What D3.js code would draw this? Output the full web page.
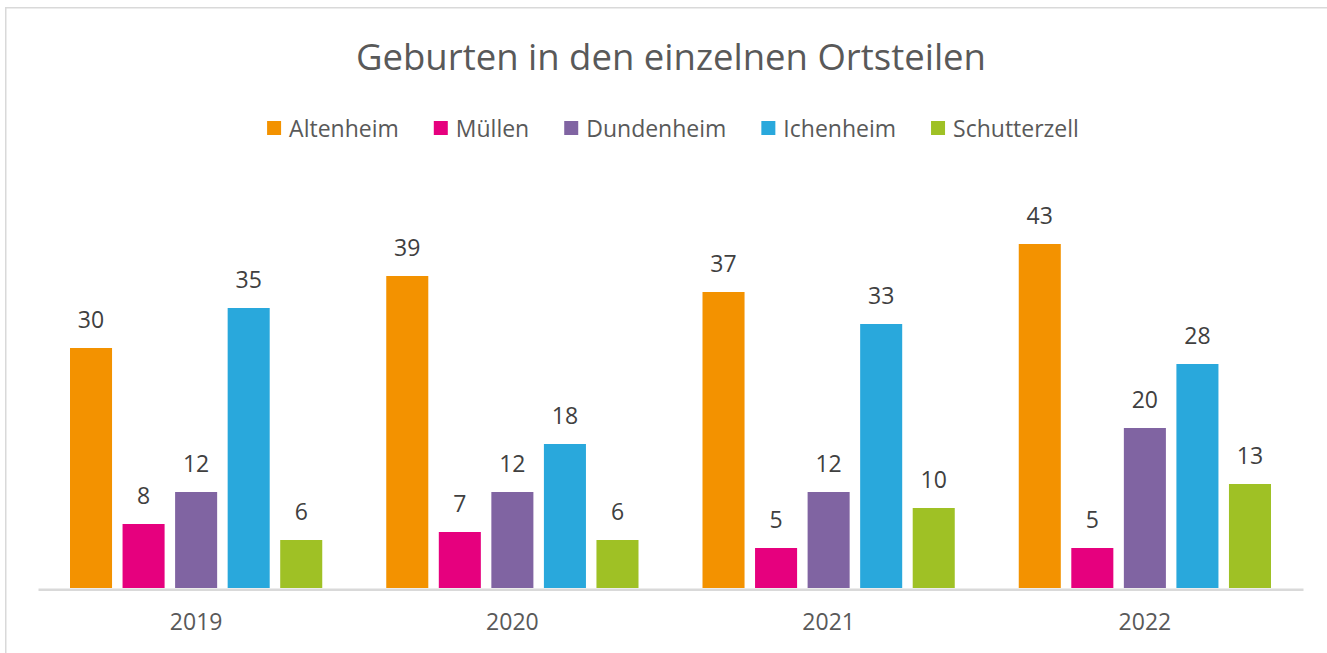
<!DOCTYPE html>
<html>
<head>
<meta charset="utf-8">
<script src="https://cdn.jsdelivr.net/npm/d3@7"></script>
<style>
  html, body { margin: 0; padding: 0; background: #fff; }
  svg { display: block; font-family: "Open Sans", sans-serif; }
</style>
</head>
<body>
<div id="chart"></div>
<script>
// Data
const years = ['2019', '2020', '2021', '2022'];
const districts = ['Altenheim', 'Müllen', 'Dundenheim', 'Ichenheim', 'Schutterzell'];
const altenheim = [30, 39, 37, 43];
const muellen = [8, 7, 5, 5];
const dundenheim = [12, 12, 12, 20];
const ichenheim = [35, 18, 33, 28];
const schutterzell = [6, 6, 10, 13];
const seriesValues = [altenheim, muellen, dundenheim, ichenheim, schutterzell];
const colours = ['#F39200', '#E6007E', '#8064A2', '#29A8DC', '#9FC125'];

const config = {
  width: 1327,
  height: 653,
  margin: { top: 188, right: 24, bottom: 65, left: 38 },
  title: 'Geburten in den einzelnen Ortsteilen'
};

const svg = d3.select('#chart')
  .append('svg')
    .attr('width', config.width)
    .attr('height', config.height);

// Chart frame: only top and left edges are visible in the picture
svg.append('path')
  .attr('d', `M5.75,${config.height} V7.75 H${config.width}`)
  .attr('fill', 'none')
  .attr('stroke', '#d9d9d9')
  .attr('stroke-width', 1.5);

const innerWidth = config.width - config.margin.left - config.margin.right;
const innerHeight = config.height - config.margin.top - config.margin.bottom;

const chart = svg.append('g')
  .attr('transform', `translate(${config.margin.left}, ${config.margin.top})`);

// Scales
const xScale = d3.scaleBand()
  .domain(years)
  .range([0, innerWidth])
  .padding(0);

const groupPad = 32;
const xInner = d3.scaleBand()
  .domain(districts)
  .range([groupPad, xScale.bandwidth() - groupPad])
  .paddingInner(0.2)
  .paddingOuter(0);

const yScale = d3.scaleLinear()
  .domain([0, 50])
  .range([innerHeight, 0]);

const colour = d3.scaleOrdinal()
  .domain(districts)
  .range(colours);

// Title
svg.append('text')
  .attr('x', 671)
  .attr('y', 70)
  .attr('text-anchor', 'middle')
  .attr('fill', '#595959')
  .style('font-size', '36.5px')
  .text(config.title);

// Legend
const legend = svg.append('g').attr('class', 'legend');
const legendItems = legend.selectAll('.legend-item')
  .data(districts)
  .join('g')
    .attr('class', 'legend-item');

legendItems.append('rect')
  .attr('width', 14)
  .attr('height', 14)
  .attr('y', 121)
  .attr('fill', d => colour(d));

legendItems.append('text')
  .attr('x', 22)
  .attr('y', 137)
  .attr('fill', '#595959')
  .style('font-size', '23px')
  .text(d => d);

let offset = 0;
const widths = [];
legendItems.each(function () {
  const w = 22 + d3.select(this).select('text').node().getComputedTextLength();
  widths.push(w);
});
const legendGap = 35;
const legendTotal = d3.sum(widths) + legendGap * (widths.length - 1);
const legendStart = 673 - legendTotal / 2;
legendItems.attr('transform', (d, i) => {
  const x = legendStart + offset;
  offset += widths[i] + legendGap;
  return `translate(${x}, 0)`;
});

// Bars
const groups = chart.selectAll('.year')
  .data(years)
  .join('g')
    .attr('class', 'year')
    .attr('transform', d => `translate(${xScale(d)}, 0)`);

const barData = (year, yi) => districts.map((name, si) => ({ name, year, value: seriesValues[si][yi] }));

groups.selectAll('.bar')
  .data((d, i) => barData(d, i))
  .join('rect')
    .attr('class', 'bar')
    .attr('x', d => xInner(d.name))
    .attr('width', xInner.bandwidth())
    .attr('y', d => yScale(d.value))
    .attr('height', d => innerHeight - yScale(d.value))
    .attr('fill', d => colour(d.name));

groups.selectAll('.label')
  .data((d, i) => barData(d, i))
  .join('text')
    .attr('class', 'label')
    .attr('x', d => xInner(d.name) + xInner.bandwidth() / 2)
    .attr('y', d => yScale(d.value) - 20)
    .attr('text-anchor', 'middle')
    .attr('fill', '#404040')
    .style('font-size', '23px')
    .text(d => d.value);

// X axis
const xAxis = d3.axisBottom(xScale)
  .tickSize(0)
  .tickPadding(26);

const xAxisG = chart.append('g')
  .attr('class', 'axis x-axis')
  .attr('transform', `translate(0, ${innerHeight})`)
  .call(xAxis);

xAxisG.select('.domain')
  .attr('stroke', '#d9d9d9')
  .attr('stroke-width', 2.5)
  .attr('transform', 'translate(0, 1.2)');

xAxisG.selectAll('.tick text')
  .attr('fill', '#595959')
  .style('font-size', '23px')
  .style('font-family', '"Open Sans", sans-serif');
</script>
</body>
</html>
